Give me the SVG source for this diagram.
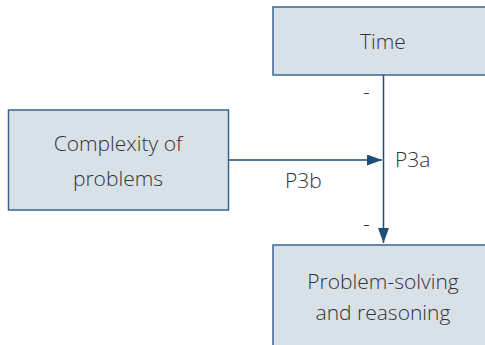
<svg xmlns="http://www.w3.org/2000/svg" width="485" height="345" viewBox="0 0 485 345">
<style>
.box{fill:#d9e1e8;stroke:#3a6591;stroke-width:1.5}
.t{font-family:"Open Sans","Liberation Sans",sans-serif;font-weight:300;font-size:21px;fill:#333;text-anchor:middle}
.l{font-family:"Open Sans","Liberation Sans",sans-serif;font-weight:300;font-size:21px;fill:#333}
.c{stroke:#1f4e79;stroke-width:1.5;fill:none}
</style>
<defs>
<marker id="a" markerWidth="15" markerHeight="11" viewBox="0 0 15 11" refX="15" refY="5.5" orient="auto" markerUnits="userSpaceOnUse">
<path d="M0,0 L15,5.5 L0,11 Z" fill="#1f4e79"/>
</marker>
</defs>
<g id="time"><rect class="box" x="273" y="7" width="220" height="68"/><text class="t" x="383" y="49">Time</text></g>
<g id="complexity"><rect class="box" x="8.5" y="110" width="220" height="100"/><text class="t" x="118" y="151">Complexity of</text><text class="t" x="118" y="186">problems</text></g>
<g id="problem"><rect class="box" x="273" y="245" width="220" height="110"/><text class="t" x="383" y="289">Problem-solving</text><text class="t" x="383" y="320">and reasoning</text></g>
<g id="connectors">
<line class="c" x1="383.5" y1="75" x2="383.5" y2="243" marker-end="url(#a)"/>
<line class="c" x1="229" y1="160" x2="382" y2="160" marker-end="url(#a)"/>
<text class="l" x="363" y="99">-</text>
<text class="l" x="363" y="231">-</text>
<text class="l" x="285" y="188">P3b</text>
<text class="l" x="395" y="167">P3a</text>
</g>
</svg>
